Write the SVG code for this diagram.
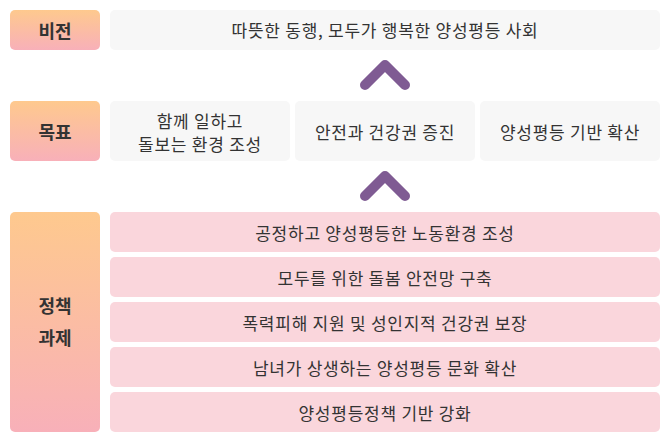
<svg xmlns="http://www.w3.org/2000/svg" width="670" height="442" viewBox="0 0 670 442">
<defs>
<linearGradient id="lg" x1="0" y1="0" x2="0" y2="1">
<stop offset="0" stop-color="#fec98e"/>
<stop offset="1" stop-color="#f8b0b9"/>
</linearGradient>
<style>
.lab{fill:url(#lg)}
.gb{fill:#f7f7f7}
.pb{fill:#fad6dc}
text{font-family:"Noto Sans CJK KR","Noto Sans",sans-serif;fill:#333;text-anchor:middle;dominant-baseline:central}
.lt{font-size:18px;font-weight:bold}
.t{font-size:17px;letter-spacing:0.75px}
.chev{fill:none;stroke:#7f5b93;stroke-width:10;stroke-linecap:round;stroke-linejoin:round}
</style>
</defs>
<rect width="670" height="442" fill="#fff"/>
<g id="label-vision"><rect class="lab" x="10" y="10" width="90" height="40" rx="5"/><text class="lt" x="55" y="30">비전</text></g>
<g id="vision"><rect class="gb" x="110" y="10" width="550" height="40" rx="5"/><text class="t" x="385" y="29.5">따뜻한 동행, 모두가 행복한 양성평등 사회</text></g>
<g id="label-goal"><rect class="lab" x="10" y="101" width="90" height="60" rx="5"/><text class="lt" x="55" y="131">목표</text></g>
<g id="goal1"><rect class="gb" x="110" y="101" width="180" height="60" rx="5"/><text class="t" x="200" y="120">함께 일하고</text><text class="t" x="200" y="143">돌보는 환경 조성</text></g>
<g id="goal2"><rect class="gb" x="295" y="101" width="180" height="60" rx="5"/><text class="t" x="385" y="131">안전과 건강권 증진</text></g>
<g id="goal3"><rect class="gb" x="480" y="101" width="180" height="60" rx="5"/><text class="t" x="570" y="131">양성평등 기반 확산</text></g>
<g id="label-policy"><rect class="lab" x="10" y="212" width="90" height="220" rx="5"/><text class="lt" x="55" y="305">정책</text><text class="lt" x="55" y="337">과제</text></g>
<g id="p1"><rect class="pb" x="110" y="212" width="550" height="40" rx="5"/><text class="t" x="385" y="232">공정하고 양성평등한 노동환경 조성</text></g>
<g id="p2"><rect class="pb" x="110" y="257" width="550" height="40" rx="5"/><text class="t" x="385" y="277">모두를 위한 돌봄 안전망 구축</text></g>
<g id="p3"><rect class="pb" x="110" y="302" width="550" height="40" rx="5"/><text class="t" x="385" y="322">폭력피해 지원 및 성인지적 건강권 보장</text></g>
<g id="p4"><rect class="pb" x="110" y="347" width="550" height="40" rx="5"/><text class="t" x="385" y="367">남녀가 상생하는 양성평등 문화 확산</text></g>
<g id="p5"><rect class="pb" x="110" y="392" width="550" height="40" rx="5"/><text class="t" x="385" y="412">양성평등정책 기반 강화</text></g>
<g id="connectors">
<path class="chev" d="M365,85 L385,65 L405,85"/>
<path class="chev" d="M365,196 L385,176 L405,196"/>
</g>
</svg>
